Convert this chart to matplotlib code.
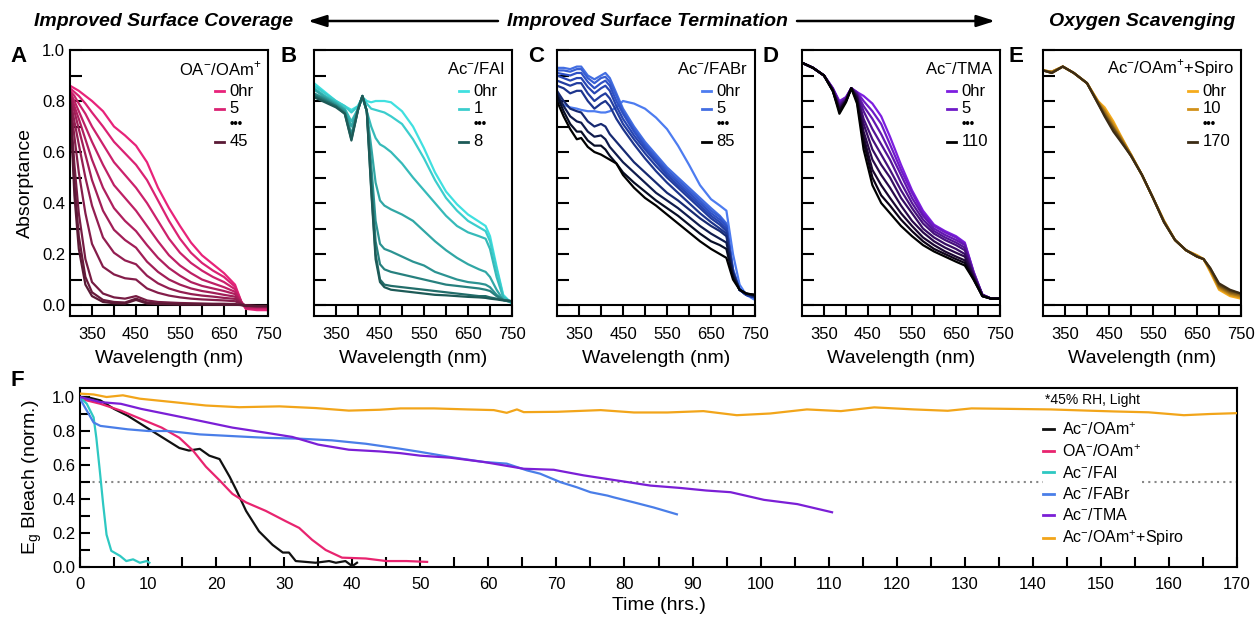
import numpy as np
import matplotlib
matplotlib.use('Agg')
import matplotlib.pyplot as plt
from matplotlib.colors import LinearSegmentedColormap
from matplotlib.lines import Line2D
from matplotlib.ticker import FormatStrFormatter

plt.rcParams['font.family'] = ['Liberation Sans', 'DejaVu Sans']
plt.rcParams['mathtext.fontset'] = 'custom'
plt.rcParams['mathtext.rm'] = 'Liberation Sans'

# ---------------- DATA ----------------
# A: OA-/OAm+ absorptance spectra (0hr ... 45hr)
wl_a = [300, 310, 320, 335, 350, 375, 400, 425, 450, 475, 500, 525, 550, 575, 600, 625, 650, 675, 690, 700, 725, 750]
spec_a = [
    [0.86, 0.85, 0.84, 0.82, 0.80, 0.76, 0.70, 0.665, 0.625, 0.56, 0.46, 0.38, 0.31, 0.245, 0.195, 0.16, 0.125, 0.08, 0.01, -0.015, -0.02, -0.02],
    [0.85, 0.835, 0.82, 0.79, 0.755, 0.70, 0.64, 0.595, 0.55, 0.49, 0.41, 0.33, 0.26, 0.205, 0.165, 0.135, 0.11, 0.072, 0.01, -0.015, -0.015, -0.015],
    [0.84, 0.82, 0.79, 0.75, 0.70, 0.63, 0.56, 0.51, 0.46, 0.40, 0.33, 0.26, 0.205, 0.165, 0.135, 0.11, 0.09, 0.062, 0.01, -0.01, -0.01, -0.01],
    [0.835, 0.80, 0.76, 0.70, 0.64, 0.55, 0.47, 0.42, 0.37, 0.31, 0.25, 0.195, 0.155, 0.125, 0.10, 0.085, 0.07, 0.052, 0.01, -0.01, -0.01, -0.01],
    [0.83, 0.78, 0.73, 0.65, 0.57, 0.46, 0.38, 0.33, 0.29, 0.235, 0.185, 0.145, 0.115, 0.09, 0.075, 0.065, 0.055, 0.043, 0.008, -0.005, -0.008, -0.008],
    [0.82, 0.76, 0.69, 0.59, 0.49, 0.37, 0.295, 0.255, 0.225, 0.17, 0.13, 0.10, 0.08, 0.065, 0.055, 0.048, 0.04, 0.033, 0.006, -0.005, -0.005, -0.005],
    [0.815, 0.72, 0.63, 0.50, 0.39, 0.265, 0.205, 0.175, 0.16, 0.115, 0.085, 0.065, 0.052, 0.043, 0.037, 0.033, 0.028, 0.024, 0.005, -0.003, -0.005, -0.005],
    [0.81, 0.66, 0.52, 0.36, 0.24, 0.15, 0.12, 0.105, 0.10, 0.065, 0.048, 0.037, 0.03, 0.025, 0.022, 0.02, 0.018, 0.015, 0.004, -0.002, -0.004, -0.004],
    [0.80, 0.55, 0.36, 0.18, 0.09, 0.045, 0.03, 0.025, 0.035, 0.018, 0.012, 0.01, 0.008, 0.007, 0.006, 0.005, 0.005, 0.004, 0.0, -0.003, -0.004, -0.004],
    [0.795, 0.48, 0.27, 0.11, 0.05, 0.02, 0.012, 0.01, 0.025, 0.01, 0.006, 0.005, 0.004, 0.003, 0.003, 0.003, 0.002, 0.002, 0.0, -0.003, -0.004, -0.004],
    [0.79, 0.43, 0.22, 0.08, 0.035, 0.012, 0.007, 0.006, 0.02, 0.006, 0.004, 0.003, 0.002, 0.002, 0.002, 0.002, 0.001, 0.001, 0.0, -0.003, -0.004, -0.004],
]

# B: Ac-/FAI (0hr ... 8hr)
wl_b = [300, 325, 350, 370, 385, 400, 410, 420, 430, 440, 450, 460, 475, 500, 525, 550, 575, 600, 625, 650, 675, 690, 700, 715, 730, 750]
spec_b = [
    [0.87, 0.835, 0.80, 0.78, 0.765, 0.78, 0.815, 0.80, 0.795, 0.80, 0.80, 0.80, 0.795, 0.76, 0.70, 0.615, 0.52, 0.445, 0.395, 0.355, 0.327, 0.31, 0.27, 0.15, 0.04, 0.005],
    [0.86, 0.83, 0.80, 0.78, 0.755, 0.78, 0.815, 0.79, 0.77, 0.765, 0.76, 0.755, 0.74, 0.71, 0.65, 0.575, 0.49, 0.42, 0.37, 0.33, 0.305, 0.29, 0.25, 0.14, 0.035, 0.005],
    [0.85, 0.82, 0.795, 0.77, 0.72, 0.77, 0.815, 0.76, 0.70, 0.655, 0.63, 0.62, 0.60, 0.555, 0.50, 0.45, 0.40, 0.35, 0.31, 0.285, 0.27, 0.26, 0.22, 0.11, 0.03, 0.01],
    [0.845, 0.815, 0.79, 0.765, 0.70, 0.77, 0.815, 0.76, 0.62, 0.48, 0.41, 0.39, 0.375, 0.355, 0.33, 0.29, 0.25, 0.215, 0.185, 0.16, 0.14, 0.13, 0.11, 0.06, 0.02, 0.01],
    [0.83, 0.81, 0.785, 0.76, 0.67, 0.77, 0.82, 0.76, 0.55, 0.33, 0.24, 0.22, 0.21, 0.19, 0.17, 0.155, 0.13, 0.115, 0.10, 0.09, 0.085, 0.08, 0.07, 0.04, 0.02, 0.01],
    [0.825, 0.805, 0.78, 0.755, 0.66, 0.765, 0.82, 0.76, 0.50, 0.25, 0.16, 0.14, 0.13, 0.12, 0.11, 0.10, 0.09, 0.08, 0.075, 0.07, 0.065, 0.06, 0.055, 0.035, 0.02, 0.015],
    [0.82, 0.80, 0.78, 0.75, 0.65, 0.765, 0.82, 0.76, 0.46, 0.20, 0.10, 0.08, 0.075, 0.07, 0.065, 0.06, 0.055, 0.05, 0.045, 0.04, 0.035, 0.035, 0.03, 0.025, 0.02, 0.015],
    [0.815, 0.795, 0.775, 0.75, 0.645, 0.765, 0.82, 0.76, 0.45, 0.18, 0.09, 0.07, 0.06, 0.055, 0.05, 0.045, 0.04, 0.038, 0.035, 0.032, 0.03, 0.028, 0.025, 0.022, 0.018, 0.015],
]

# C: Ac-/FABr (0hr ... 85hr)
wl_c = [300, 315, 330, 345, 355, 370, 385, 400, 410, 420, 435, 450, 475, 500, 525, 550, 575, 600, 625, 650, 670, 685, 700, 715, 730, 750]
spec_c = [
    [0.80, 0.785, 0.775, 0.77, 0.765, 0.76, 0.76, 0.755, 0.755, 0.76, 0.775, 0.80, 0.79, 0.77, 0.735, 0.69, 0.625, 0.55, 0.47, 0.415, 0.39, 0.37, 0.20, 0.08, 0.04, 0.02],
    [0.93, 0.93, 0.925, 0.935, 0.935, 0.90, 0.885, 0.90, 0.91, 0.89, 0.83, 0.77, 0.70, 0.64, 0.59, 0.54, 0.50, 0.46, 0.42, 0.38, 0.35, 0.32, 0.14, 0.06, 0.04, 0.03],
    [0.92, 0.92, 0.915, 0.925, 0.925, 0.89, 0.87, 0.89, 0.895, 0.875, 0.82, 0.76, 0.69, 0.63, 0.58, 0.53, 0.49, 0.45, 0.41, 0.37, 0.345, 0.315, 0.14, 0.06, 0.04, 0.03],
    [0.91, 0.905, 0.90, 0.91, 0.91, 0.875, 0.85, 0.87, 0.88, 0.86, 0.80, 0.75, 0.68, 0.62, 0.57, 0.52, 0.48, 0.44, 0.40, 0.36, 0.335, 0.31, 0.13, 0.06, 0.04, 0.03],
    [0.90, 0.89, 0.88, 0.89, 0.89, 0.855, 0.83, 0.85, 0.86, 0.84, 0.78, 0.73, 0.665, 0.61, 0.56, 0.51, 0.47, 0.43, 0.39, 0.35, 0.325, 0.30, 0.13, 0.06, 0.04, 0.03],
    [0.88, 0.87, 0.86, 0.87, 0.87, 0.83, 0.80, 0.82, 0.83, 0.81, 0.76, 0.71, 0.65, 0.595, 0.545, 0.50, 0.46, 0.42, 0.38, 0.34, 0.315, 0.29, 0.12, 0.06, 0.04, 0.03],
    [0.86, 0.85, 0.83, 0.84, 0.84, 0.80, 0.77, 0.79, 0.80, 0.78, 0.73, 0.69, 0.63, 0.575, 0.525, 0.48, 0.44, 0.40, 0.36, 0.325, 0.30, 0.28, 0.12, 0.06, 0.04, 0.03],
    [0.84, 0.80, 0.77, 0.76, 0.755, 0.72, 0.70, 0.71, 0.70, 0.67, 0.64, 0.61, 0.56, 0.52, 0.48, 0.44, 0.41, 0.375, 0.34, 0.31, 0.29, 0.27, 0.13, 0.06, 0.045, 0.035],
    [0.83, 0.78, 0.74, 0.72, 0.715, 0.68, 0.66, 0.665, 0.65, 0.62, 0.59, 0.56, 0.52, 0.48, 0.44, 0.41, 0.38, 0.345, 0.31, 0.28, 0.26, 0.245, 0.12, 0.06, 0.045, 0.035],
    [0.82, 0.76, 0.71, 0.68, 0.68, 0.645, 0.625, 0.625, 0.61, 0.585, 0.555, 0.52, 0.48, 0.445, 0.41, 0.38, 0.35, 0.315, 0.28, 0.25, 0.235, 0.22, 0.11, 0.06, 0.045, 0.04],
    [0.80, 0.74, 0.69, 0.65, 0.655, 0.62, 0.60, 0.59, 0.58, 0.57, 0.555, 0.51, 0.46, 0.42, 0.39, 0.355, 0.32, 0.285, 0.25, 0.22, 0.20, 0.185, 0.10, 0.06, 0.045, 0.04],
]

# D: Ac-/TMA (0hr ... 110hr)
wl_d = [300, 325, 350, 370, 385, 400, 412, 425, 440, 460, 480, 500, 525, 550, 575, 600, 625, 650, 670, 690, 710, 730, 750]
spec_d = [
    [0.95, 0.93, 0.90, 0.85, 0.80, 0.815, 0.85, 0.835, 0.82, 0.79, 0.74, 0.66, 0.55, 0.45, 0.37, 0.315, 0.29, 0.27, 0.245, 0.13, 0.04, 0.025, 0.025],
    [0.95, 0.93, 0.90, 0.85, 0.795, 0.815, 0.85, 0.835, 0.80, 0.76, 0.71, 0.63, 0.53, 0.44, 0.36, 0.31, 0.285, 0.265, 0.24, 0.13, 0.04, 0.025, 0.025],
    [0.95, 0.93, 0.90, 0.85, 0.79, 0.81, 0.85, 0.83, 0.78, 0.73, 0.67, 0.60, 0.51, 0.42, 0.35, 0.30, 0.275, 0.255, 0.235, 0.125, 0.04, 0.025, 0.025],
    [0.95, 0.93, 0.90, 0.845, 0.785, 0.81, 0.85, 0.83, 0.76, 0.69, 0.63, 0.57, 0.48, 0.40, 0.335, 0.29, 0.265, 0.245, 0.225, 0.12, 0.04, 0.025, 0.025],
    [0.95, 0.93, 0.90, 0.845, 0.78, 0.805, 0.85, 0.825, 0.73, 0.65, 0.59, 0.53, 0.45, 0.38, 0.32, 0.28, 0.255, 0.235, 0.215, 0.12, 0.04, 0.025, 0.025],
    [0.95, 0.93, 0.90, 0.845, 0.775, 0.805, 0.85, 0.82, 0.71, 0.61, 0.55, 0.50, 0.42, 0.36, 0.30, 0.265, 0.24, 0.22, 0.20, 0.115, 0.04, 0.025, 0.025],
    [0.95, 0.93, 0.90, 0.84, 0.77, 0.80, 0.85, 0.815, 0.68, 0.57, 0.51, 0.46, 0.39, 0.33, 0.285, 0.25, 0.225, 0.205, 0.19, 0.11, 0.035, 0.025, 0.025],
    [0.95, 0.93, 0.90, 0.84, 0.765, 0.80, 0.85, 0.81, 0.66, 0.53, 0.47, 0.42, 0.36, 0.31, 0.265, 0.235, 0.21, 0.19, 0.175, 0.105, 0.035, 0.025, 0.025],
    [0.95, 0.93, 0.90, 0.84, 0.76, 0.80, 0.85, 0.80, 0.64, 0.50, 0.43, 0.39, 0.335, 0.29, 0.25, 0.22, 0.20, 0.18, 0.165, 0.10, 0.035, 0.025, 0.025],
    [0.95, 0.93, 0.90, 0.84, 0.75, 0.795, 0.85, 0.79, 0.61, 0.47, 0.40, 0.36, 0.31, 0.27, 0.235, 0.21, 0.19, 0.17, 0.155, 0.10, 0.035, 0.025, 0.025],
]

# E: Ac-/OAm+ + Spiro (0hr ... 170hr)
wl_e = [300, 320, 345, 370, 400, 425, 440, 460, 475, 500, 525, 550, 575, 600, 625, 650, 665, 680, 700, 725, 750]
spec_e = [
    [0.92, 0.915, 0.935, 0.91, 0.87, 0.80, 0.775, 0.72, 0.67, 0.59, 0.51, 0.42, 0.33, 0.255, 0.215, 0.195, 0.18, 0.13, 0.06, 0.035, 0.025],
    [0.92, 0.915, 0.935, 0.91, 0.87, 0.80, 0.765, 0.71, 0.665, 0.59, 0.51, 0.42, 0.33, 0.255, 0.215, 0.195, 0.18, 0.135, 0.065, 0.04, 0.03],
    [0.92, 0.915, 0.935, 0.91, 0.87, 0.795, 0.76, 0.70, 0.66, 0.59, 0.51, 0.42, 0.33, 0.255, 0.215, 0.19, 0.18, 0.14, 0.07, 0.045, 0.035],
    [0.92, 0.91, 0.935, 0.91, 0.87, 0.795, 0.75, 0.695, 0.655, 0.585, 0.51, 0.42, 0.325, 0.255, 0.215, 0.19, 0.18, 0.14, 0.075, 0.05, 0.04],
    [0.92, 0.91, 0.935, 0.91, 0.87, 0.79, 0.745, 0.69, 0.65, 0.585, 0.51, 0.42, 0.325, 0.255, 0.215, 0.19, 0.18, 0.145, 0.08, 0.055, 0.045],
    [0.92, 0.91, 0.935, 0.91, 0.87, 0.79, 0.74, 0.68, 0.645, 0.585, 0.51, 0.42, 0.325, 0.255, 0.215, 0.19, 0.18, 0.145, 0.085, 0.06, 0.045],
]

# F: normalized Eg bleach vs time
t_black = [0, 1, 2, 3, 5, 7, 9, 11, 13, 14.6, 16, 17.6, 19, 20.5, 22, 23, 24.4, 26.3, 28.3, 29.8, 30.7, 31.7, 34.6, 36.6, 37.6, 39, 40, 40.7]
y_black = [1.0, 1.0, 0.99, 0.98, 0.93, 0.89, 0.84, 0.79, 0.74, 0.70, 0.685, 0.695, 0.655, 0.635, 0.53, 0.45, 0.33, 0.21, 0.13, 0.085, 0.085, 0.035, 0.025, 0.035, 0.025, 0.035, 0.005, 0.025]
t_pink = [0, 3, 6, 9, 12, 14.6, 16.6, 18.5, 20.5, 22.4, 24.4, 27.3, 30.2, 32.2, 34.1, 36.1, 38.5, 42, 45, 48, 51]
y_pink = [0.99, 0.96, 0.92, 0.87, 0.82, 0.76, 0.685, 0.59, 0.51, 0.43, 0.38, 0.33, 0.27, 0.23, 0.16, 0.10, 0.055, 0.05, 0.035, 0.035, 0.03]
t_cyan = [0, 1, 2, 2.4, 2.9, 3.4, 3.9, 4.6, 5.9, 6.8, 7.8, 8.8, 9.8, 10.2]
y_cyan = [1.0, 0.96, 0.88, 0.76, 0.57, 0.37, 0.19, 0.095, 0.065, 0.035, 0.045, 0.025, 0.035, 0.025]
t_blue = [0, 1, 2, 3, 5, 7, 10, 13, 17.6, 22.4, 27.3, 32.2, 37, 42, 47, 50, 54.4, 59.3, 62.7, 65.7, 67.6, 70.6, 73, 75, 77.5, 78.4, 81.4, 84.3, 87.7]
y_blue = [0.99, 0.92, 0.85, 0.83, 0.82, 0.81, 0.80, 0.80, 0.78, 0.77, 0.76, 0.755, 0.745, 0.725, 0.696, 0.677, 0.647, 0.618, 0.608, 0.568, 0.549, 0.499, 0.469, 0.44, 0.42, 0.41, 0.38, 0.35, 0.31]
t_purple = [0, 3, 6, 9, 12.7, 17.6, 22.4, 27.3, 31.2, 35, 39.5, 44, 47, 50, 54.4, 59.3, 65.2, 69.6, 74, 78.9, 83.8, 88.2, 92, 95.6, 100.5, 105.4, 110.5]
y_purple = [1.0, 0.97, 0.96, 0.93, 0.90, 0.86, 0.82, 0.79, 0.765, 0.72, 0.69, 0.68, 0.67, 0.655, 0.643, 0.618, 0.578, 0.572, 0.539, 0.509, 0.479, 0.465, 0.45, 0.44, 0.395, 0.37, 0.322]
t_orange = [0, 2, 3.9, 6.3, 8.8, 13.7, 18.5, 23.4, 29.3, 34.6, 39.5, 44, 47.1, 52, 56.9, 60.8, 62.7, 64.2, 65.2, 70.1, 76.5, 81.4, 86.3, 91.6, 96.5, 101.4, 106.8, 111.8, 116.7, 122.5, 127.5, 131, 137, 142.6, 148, 152, 157, 162.2, 166, 170]
y_orange = [1.02, 1.015, 1.0, 1.01, 0.99, 0.97, 0.95, 0.94, 0.945, 0.935, 0.92, 0.925, 0.933, 0.933, 0.927, 0.923, 0.907, 0.927, 0.911, 0.913, 0.923, 0.909, 0.909, 0.917, 0.893, 0.903, 0.927, 0.917, 0.939, 0.927, 0.919, 0.933, 0.93, 0.927, 0.92, 0.915, 0.91, 0.893, 0.90, 0.905]

M = r'$^{\mathregular{-}}$'
P = r'$^{\mathregular{+}}$'
f_labels = ['Ac' + M + '/OAm' + P, 'OA' + M + '/OAm' + P, 'Ac' + M + '/FAI', 'Ac' + M + '/FABr',
            'Ac' + M + '/TMA', 'Ac' + M + '/OAm' + P + '+Spiro']

# ---------------- FIGURE ----------------
W, H = 1256, 623
fig = plt.figure(figsize=(W / 100, H / 100), dpi=100)


def px_box(l, t, r, b):
    return [l / W, 1 - b / H, (r - l) / W, (b - t) / H]


def fig_text(x, y, s, **kw):
    fig.text(x / W, 1 - y / H, s, **kw)


def gradient(c0, c1, n):
    cmap = LinearSegmentedColormap.from_list('g', [c0, c1])
    return [cmap(v) for v in np.linspace(0, 1, n)]


def setup_spectra(ax, show_ylabels):
    ax.set_xlim(300, 750)
    ax.set_ylim(-0.043, 1.0)
    ax.set_xticks([350, 450, 550, 650, 750])
    ax.set_xticks([400, 500, 600, 700], minor=True)
    ax.set_yticks([0, 0.2, 0.4, 0.6, 0.8, 1.0])
    ax.set_yticks([0.1, 0.3, 0.5, 0.7, 0.9], minor=True)
    ax.yaxis.set_major_formatter(FormatStrFormatter('%.1f'))
    ax.tick_params(which='both', direction='in', width=1.5)
    ax.tick_params(axis='y', which='both', length=8.5, pad=3.5, labelsize=12)
    ax.tick_params(axis='x', which='both', length=8, pad=8, labelsize=12)
    if not show_ylabels:
        ax.tick_params(labelleft=False)
    ax.axhline(0, color='k', lw=1.5, zorder=1)
    for s in ax.spines.values():
        s.set_linewidth(1.5)
    ax.set_xlabel('Wavelength (nm)', fontsize=14, labelpad=6)


def spectra_legend(ax, title, labels, colors):
    ax.text(0.965, 0.93, title, transform=ax.transAxes, ha='right', va='center', fontsize=12)
    ys = [0.845, 0.78, 0.655]
    for y, lab, c in zip(ys, labels, colors):
        ax.plot([0.73, 0.78], [y, y], transform=ax.transAxes, color=c, lw=2)
        ax.text(0.805, y, lab, transform=ax.transAxes, ha='left', va='center', fontsize=12)
    ax.text(0.808, 0.72, '•••', transform=ax.transAxes, ha='left', va='center', fontsize=9,
            fontweight='bold')


panels = [
    (px_box(70, 50, 268, 316), wl_a, spec_a, '#e8237a', '#5a1a35', 'OA' + M + '/OAm' + P, ['0hr', '5', '45'], 'A', 10),
    (px_box(314, 50, 512, 316), wl_b, spec_b, '#40e0e0', '#1d5a57', 'Ac' + M + '/FAI', ['0hr', '1', '8'], 'B', 280),
    (px_box(557, 50, 755, 316), wl_c, spec_c, '#4d7cf0', '#000000', 'Ac' + M + '/FABr', ['0hr', '5', '85'], 'C', 528),
    (px_box(802, 50, 1000, 316), wl_d, spec_d, '#7d1ee0', '#000000', 'Ac' + M + '/TMA', ['0hr', '5', '110'], 'D', 762),
    (px_box(1043, 50, 1241, 316), wl_e, spec_e, '#f6ab1c', '#3b2b14', 'Ac' + M + '/OAm' + P + '+Spiro', ['0hr', '10', '170'], 'E', 1008),
]

for i, (box, wl, spec, c0, c1, title, labs, letter, lx) in enumerate(panels):
    ax = fig.add_axes(box)
    if letter == 'C':
        cmap = LinearSegmentedColormap.from_list('c', ['#4d7cf0', '#2a4cc0', '#1a2f80', '#000000'])
        cols = [cmap(v) for v in np.linspace(0, 1, len(spec))]
    else:
        cols = gradient(c0, c1, len(spec))
    for row, c in zip(spec, cols):
        ax.plot(wl, row, color=c, lw=1.6, zorder=2)
    setup_spectra(ax, i == 0)
    spectra_legend(ax, title, labs, [cols[0], cols[1], cols[-1]])
    fig_text(lx, 56, letter, fontsize=16, fontweight='bold', ha='left', va='center')
    if i == 0:
        ax.set_ylabel('Absorptance', fontsize=14, labelpad=6)

# ---------- F ----------
axf = fig.add_axes(px_box(80, 388, 1237, 567))
series = [
    (t_black, y_black, '#111111'),
    (t_pink, y_pink, '#e8246f'),
    (t_cyan, y_cyan, '#2ec8c2'),
    (t_blue, y_blue, '#4a7ee8'),
    (t_purple, y_purple, '#7b1fd6'),
    (t_orange, y_orange, '#f2a51a'),
]
handles = []
for t, y, c in series:
    axf.plot(t, y, color=c, lw=1.6, zorder=3)
    handles.append(Line2D([], [], color=c, lw=2))

axf.hlines(0.5, 0, 141.5, colors='#888888', linestyles=(0, (1, 2)), lw=1.5, zorder=1)
axf.hlines(0.5, 156, 170, colors='#888888', linestyles=(0, (1, 2)), lw=1.5, zorder=1)

axf.set_xlim(0, 170)
axf.set_ylim(0, 1.053)
axf.set_xticks(np.arange(0, 171, 10))
axf.set_xticks(np.arange(5, 170, 10), minor=True)
axf.set_yticks([0, 0.2, 0.4, 0.6, 0.8, 1.0])
axf.set_yticks([0.1, 0.3, 0.5, 0.7, 0.9], minor=True)
axf.yaxis.set_major_formatter(FormatStrFormatter('%.1f'))
axf.tick_params(which='both', direction='in', width=1.5, length=7, labelsize=12)
axf.tick_params(axis='x', pad=7)
axf.tick_params(axis='y', pad=3.5)
for s in axf.spines.values():
    s.set_linewidth(1.5)
axf.set_xlabel('Time (hrs.)', fontsize=14, labelpad=4)
axf.set_ylabel('E$_\\mathregular{g}$ Bleach (norm.)', fontsize=14, labelpad=6)

axf.text(0.8755, 0.933, '*45% RH, Light', transform=axf.transAxes, ha='center', va='center', fontsize=10)
axf.legend(handles, f_labels, loc='upper left', bbox_to_anchor=(0.832, 0.815), frameon=False,
           fontsize=11.5, handlelength=0.7, handletextpad=0.5, labelspacing=0.33,
           borderpad=0, borderaxespad=0)
fig_text(10, 380, 'F', fontsize=16, fontweight='bold', ha='left', va='center')

# ---------- header ----------
fig_text(164, 21, 'Improved Surface Coverage', fontsize=14, fontweight='bold', style='italic', ha='center', va='center')
fig_text(647, 21, 'Improved Surface Termination', fontsize=14, fontweight='bold', style='italic', ha='center', va='center')
fig_text(1142, 21, 'Oxygen Scavenging', fontsize=14, fontweight='bold', style='italic', ha='center', va='center')
arrow = dict(arrowstyle='-|>,head_length=1.1,head_width=0.35', lw=1.8, color='k', shrinkA=0, shrinkB=0)
fig.add_artist(plt.Annotation('', xy=(308 / W, 1 - 21 / H), xytext=(498 / W, 1 - 21 / H),
                              xycoords='figure fraction', arrowprops=arrow))
fig.add_artist(plt.Annotation('', xy=(995 / W, 1 - 21 / H), xytext=(797 / W, 1 - 21 / H),
                              xycoords='figure fraction', arrowprops=arrow))

fig.savefig('out.png', dpi=100, facecolor='white')
